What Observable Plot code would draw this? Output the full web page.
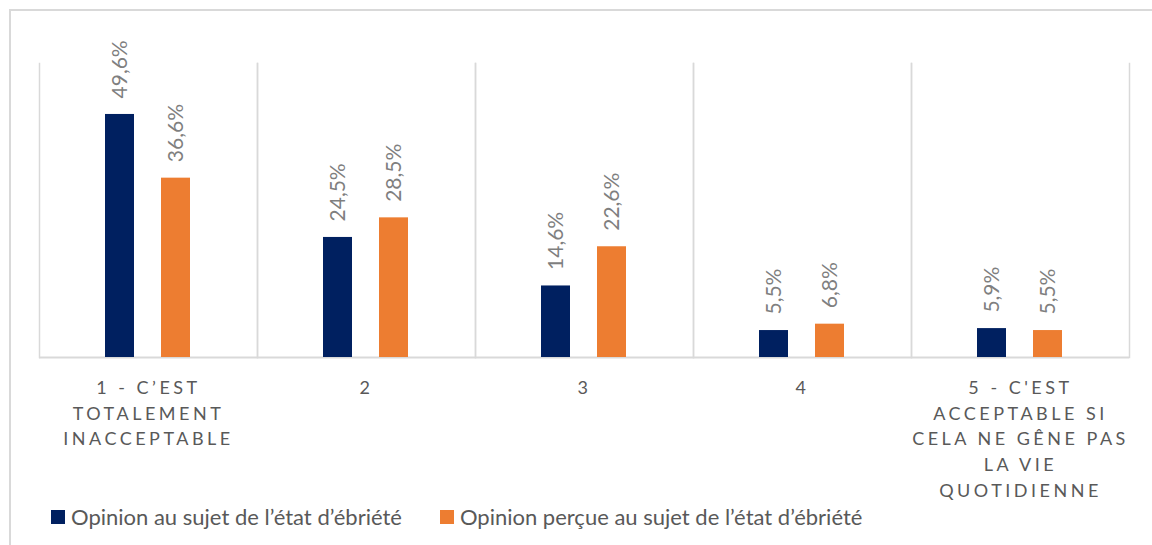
<!DOCTYPE html>
<html><head><meta charset="utf-8">
<script src="https://cdn.jsdelivr.net/npm/d3@7"></script>
<script src="https://cdn.jsdelivr.net/npm/@observablehq/plot@0.6"></script>
<style>
body{margin:0;width:1152px;height:545px;overflow:hidden;background:#fff;font-family:Lato,sans-serif;position:relative}
#border{position:absolute;left:9px;top:9px;width:1200px;height:600px;border:2px solid #d9d9d9;box-sizing:border-box}
#chart{position:absolute;left:0;top:0}
#legend{position:absolute;left:51px;top:503px;display:flex;align-items:center;font-size:22px;color:#595959;white-space:nowrap}
.item{display:flex;align-items:center;margin-right:38px}
.sw{width:14px;height:14px;margin-right:6px;display:inline-block}
</style>
</head><body>
<div id="border"></div>
<div id="chart"></div>
<div id="legend"></div>
<script>
const categories = ["1","2","3","4","5"];
const categoryLabels = [
  "1 - C’EST\nTOTALEMENT\nINACCEPTABLE",
  "2",
  "3",
  "4",
  "5 - C'EST\nACCEPTABLE SI\nCELA NE GÊNE PAS\nLA VIE\nQUOTIDIENNE"
];
const seriesNames = ["Opinion au sujet de l’état d’ébriété", "Opinion perçue au sujet de l’état d’ébriété"];
const ownOpinion = [49.6, 24.5, 14.6, 5.5, 5.9];
const perceivedOpinion = [36.6, 28.5, 22.6, 6.8, 5.5];
const seriesColors = ["#002060", "#ED7D31"];

const rows = categories.flatMap((c, i) => [
  {cat: c, series: seriesNames[0], value: ownOpinion[i]},
  {cat: c, series: seriesNames[1], value: perceivedOpinion[i]}
]);
const labelRows = categories.map((c, i) => ({cat: c, label: categoryLabels[i]}));
const fmt = v => v.toFixed(1).replace(".", ",") + "%";

const grid = "#d9d9d9";
const svg = Plot.plot({
  width: 1152, height: 503,
  marginLeft: 37, marginRight: 22, marginTop: 63, marginBottom: 146,
  style: {background: "transparent", fontFamily: "Lato, sans-serif"},
  fx: {domain: categories, padding: 0, axis: null},
  x: {domain: seriesNames, paddingInner: 0.474, paddingOuter: 1.155, axis: null},
  y: {domain: [0, 60], axis: null},
  color: {domain: seriesNames, range: seriesColors},
  marks: [
    Plot.frame({anchor: "left", stroke: grid, strokeWidth: 1.5}),
    Plot.frame({anchor: "right", stroke: grid, strokeWidth: 1.5}),
    Plot.ruleY([0], {stroke: grid, strokeWidth: 2}),
    Plot.barY(rows, {fx: "cat", x: "series", y: "value", fill: "series"}),
    Plot.text(rows, {fx: "cat", x: "series", y: "value", text: d => fmt(d.value), rotate: -90, textAnchor: "start", dy: -16, fill: "#7f7f7f", fontSize: 21}),
    Plot.text(labelRows, {fx: "cat", text: "label", frameAnchor: "bottom", lineAnchor: "top", dy: 18, fontSize: 18, lineHeight: 1.43, fill: "#595959"})
  ]
});
const flat = categoryLabels.map(s => s.replace(/\n/g, ""));
d3.select(svg).selectAll("text").filter(function() {
  const t = this.getAttribute("transform") || "";
  return flat.includes(this.textContent) && !t.includes("rotate");
}).attr("letter-spacing", "3.5px");
document.getElementById("chart").appendChild(svg);

const legend = d3.select("#legend");
seriesNames.forEach((s, i) => {
  const it = legend.append("div").attr("class", "item");
  it.append("span").attr("class", "sw").style("background", seriesColors[i]);
  it.append("span").text(s);
});
</script>
</body></html>
